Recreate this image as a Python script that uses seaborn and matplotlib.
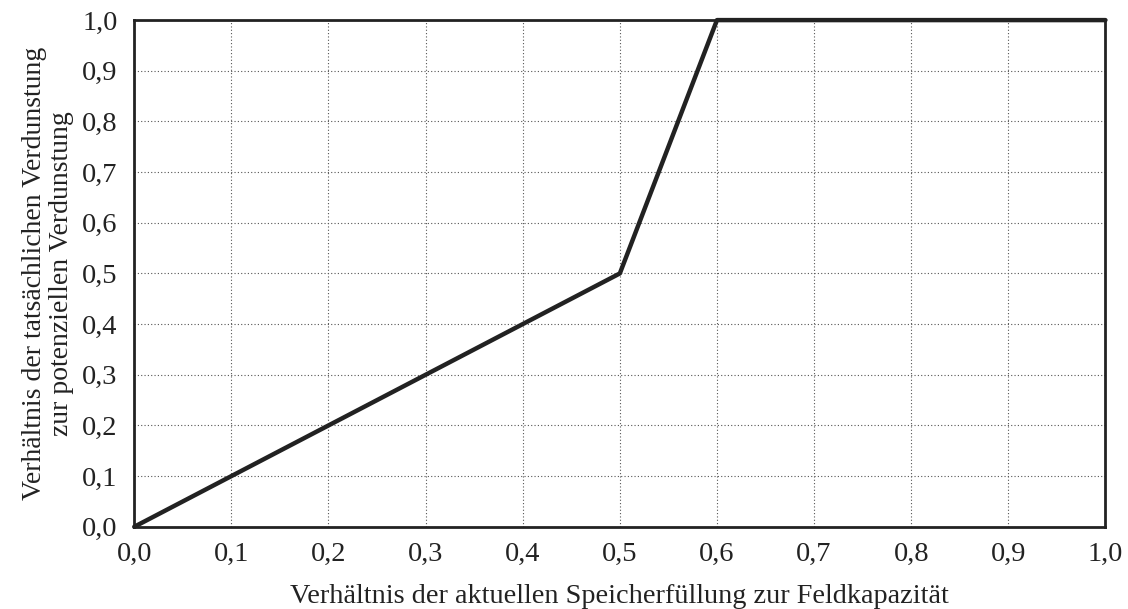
import matplotlib
matplotlib.use("Agg")
import matplotlib.pyplot as plt
import seaborn as sns
import pandas as pd

x_vals = [0.0, 0.5, 0.6, 1.0]
y_vals = [0.0, 0.5, 1.0, 1.0]
tick_vals = [0.0, 0.1, 0.2, 0.3, 0.4, 0.5, 0.6, 0.7, 0.8, 0.9, 1.0]
tick_labels = ["0,0", "0,1", "0,2", "0,3", "0,4", "0,5", "0,6", "0,7", "0,8", "0,9", "1,0"]
xlabel = "Verhältnis der aktuellen Speicherfüllung zur Feldkapazität"
ylabel = "Verhältnis der tatsächlichen Verdunstung\nzur potenziellen Verdunstung"

sns.set_style("white")
plt.rcParams['font.family'] = ['Liberation Serif', 'DejaVu Serif']
plt.rcParams['mathtext.fontset'] = 'stix'

fig = plt.figure(figsize=(11.28, 6.09), dpi=100)
ax = fig.add_axes([0.119, 0.135, 0.861, 0.832])

df = pd.DataFrame({"x": x_vals, "y": y_vals})
sns.lineplot(data=df, x="x", y="y", ax=ax, color="#222222", linewidth=3.2, sort=False, zorder=5, clip_on=False)

ax.set_xlim(0, 1)
ax.set_ylim(0, 1)
ax.set_xticks(tick_vals)
ax.set_xticklabels(tick_labels)
ax.set_yticks(tick_vals)
ax.set_yticklabels(tick_labels)
ax.tick_params(direction="in", length=6, width=1.5, labelsize=20.5, colors="#222222")
ax.tick_params(axis="y", pad=12)
ax.tick_params(axis="x", pad=11)
ax.grid(True, linestyle=(0, (1, 2)), color="#555555", linewidth=0.8)
for s in ax.spines.values():
    s.set_color("#222222")
    s.set_linewidth(2.0)
ax.set_xlabel(xlabel, fontsize=20.3, color="#222222", labelpad=12)
ax.set_ylabel(ylabel, fontsize=20, color="#222222", labelpad=6, linespacing=1.1)

fig.savefig("out.png", dpi=100)
